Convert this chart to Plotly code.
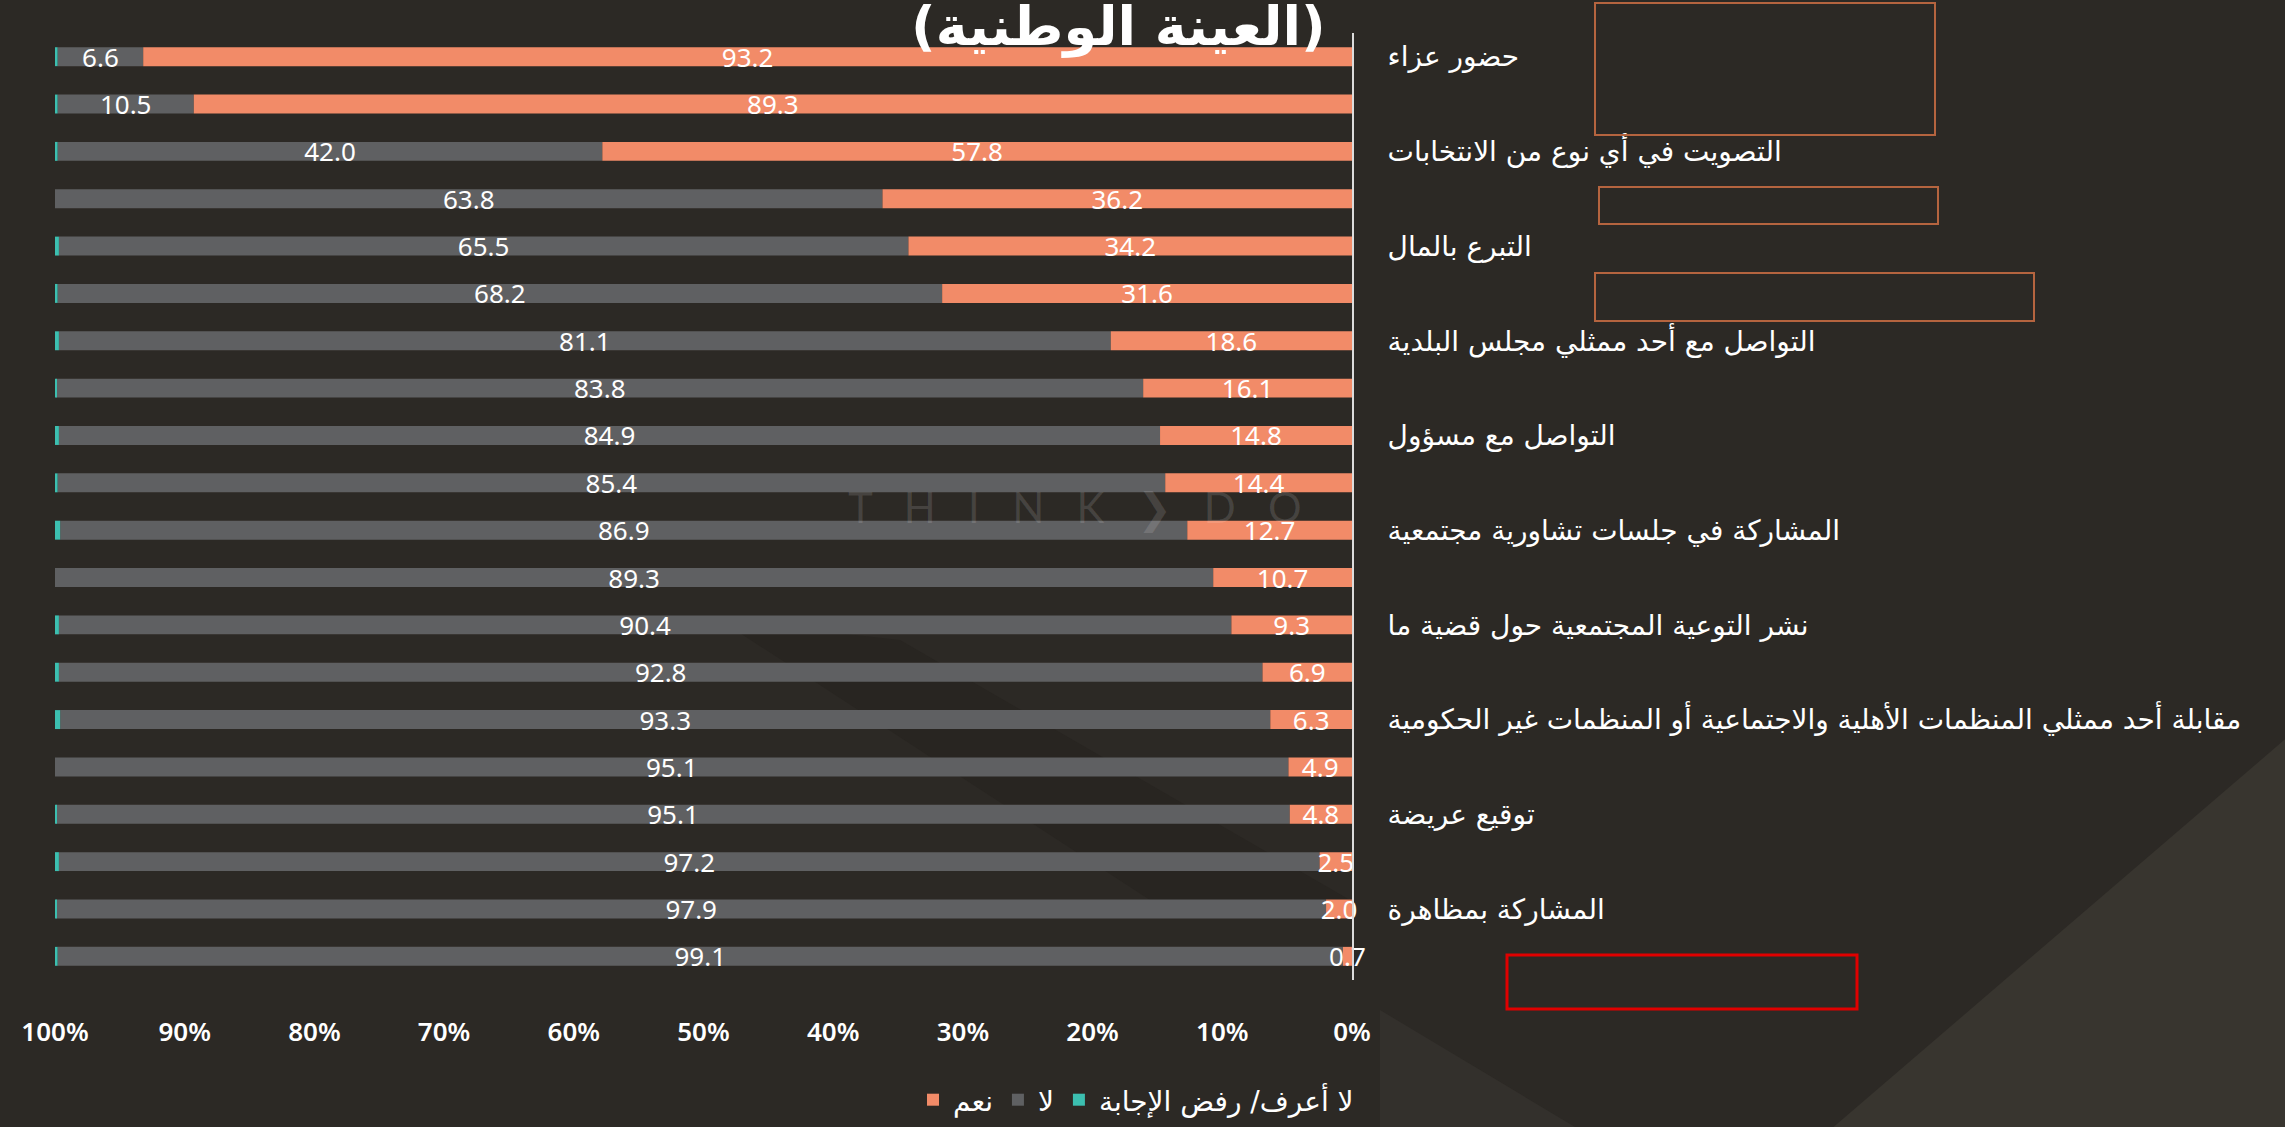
import plotly.graph_objects as go

# ---- data ----
row_labels = [
    "حضور عزاء", "",
    "التصويت في أي نوع من الانتخابات", "",
    "التبرع بالمال", "",
    "التواصل مع أحد ممثلي مجلس البلدية", "",
    "التواصل مع مسؤول ", "",
    "المشاركة في جلسات تشاورية مجتمعية", "",
    "نشر التوعية المجتمعية حول قضية ما ", "",
    "مقابلة أحد ممثلي المنظمات الأهلية والاجتماعية أو المنظمات غير الحكومية", "",
    "توقيع عريضة", "",
    "المشاركة بمظاهرة", "",
]
yes_vals = [93.2, 89.3, 57.8, 36.2, 34.2, 31.6, 18.6, 16.1, 14.8, 14.4,
            12.7, 10.7, 9.3, 6.9, 6.3, 4.9, 4.8, 2.5, 2.0, 0.7]
no_vals = [6.6, 10.5, 42.0, 63.8, 65.5, 68.2, 81.1, 83.8, 84.9, 85.4,
           86.9, 89.3, 90.4, 92.8, 93.3, 95.1, 95.1, 97.2, 97.9, 99.1]
dk_vals = [0.2, 0.2, 0.2, 0.0, 0.3, 0.2, 0.3, 0.1, 0.3, 0.2,
           0.4, 0.1, 0.3, 0.3, 0.4, 0.0, 0.1, 0.3, 0.1, 0.2]
series_names = ["نعم", "لا", "لا أعرف/ رفض الإجابة"]
x_ticks = [100, 90, 80, 70, 60, 50, 40, 30, 20, 10, 0]
x_tick_text = ["100%", "90%", "80%", "70%", "60%", "50%", "40%", "30%", "20%", "10%", "0%"]
title_text = "(العينة الوطنية)"

rows = list(range(len(yes_vals)))
tick_rows = [r for r in rows if row_labels[r]]
tick_text = [row_labels[r] for r in tick_rows]

# stacked bases (yes from 0, then no, then don't know)
no_base = list(yes_vals)
dk_base = [a + b for a, b in zip(yes_vals, no_vals)]

W, H = 2285, 1127
L, R, T, B = 55, 1352, 33, 980  # plot area pixels


def px(x):
    return (x - L) / (R - L)


def py(y):
    return (B - y) / (B - T)


C_YES = "#f28b68"
C_NO = "#5f6062"
C_DK = "#3cbfb0"
num_font = dict(family="Noto Sans", size=26, color="white")

fig = go.Figure()
# draw order: no, dk, then yes last so its labels sit on top
fig.add_trace(go.Bar(
    y=rows, x=no_vals, base=no_base, orientation="h", name=series_names[1],
    legendrank=2,
    marker=dict(color=C_NO, line=dict(width=0)),
    text=no_vals, texttemplate="%{x:.1f}", textposition="inside", textangle=0,
    insidetextanchor="middle", textfont=num_font, cliponaxis=False,
))
fig.add_trace(go.Bar(
    y=rows, x=dk_vals, base=dk_base, orientation="h", name=series_names[2],
    legendrank=3,
    marker=dict(color=C_DK, line=dict(width=0)),
    textposition="none",
))
fig.add_trace(go.Bar(
    y=rows, x=yes_vals, base=0, orientation="h", name=series_names[0],
    legendrank=1,
    marker=dict(color=C_YES, line=dict(width=0)),
    text=yes_vals, texttemplate="%{x:.1f}", textposition="inside", textangle=0,
    insidetextanchor="middle", textfont=num_font, cliponaxis=False,
))

shapes = [
    # background light wedge bottom right
    dict(type="path", xref="paper", yref="paper", layer="below",
         path=f"M {px(2290)} {py(735)} L {px(2290)} {py(1130)} L {px(1830)} {py(1130)} Z",
         fillcolor="#38352f", line=dict(width=0)),
    dict(type="path", xref="paper", yref="paper", layer="below",
         path=f"M {px(1380)} {py(1010)} L {px(1580)} {py(1130)} L {px(1380)} {py(1130)} Z",
         fillcolor="#33302c", line=dict(width=0)),
    dict(type="path", xref="paper", yref="paper", layer="below",
         path=f"M {px(720)} {py(620)} L {px(900)} {py(640)} L {px(1350)} {py(900)} L {px(1150)} {py(900)} Z",
         fillcolor="#282521", line=dict(width=0)),
    # empty outlined boxes
    dict(type="rect", xref="paper", yref="paper", layer="above",
         x0=px(1595), x1=px(1935), y0=py(3), y1=py(135),
         line=dict(color="#b5643f", width=2)),
    dict(type="rect", xref="paper", yref="paper", layer="above",
         x0=px(1599), x1=px(1938), y0=py(187), y1=py(224),
         line=dict(color="#b5643f", width=2)),
    dict(type="rect", xref="paper", yref="paper", layer="above",
         x0=px(1595), x1=px(2034), y0=py(273), y1=py(321),
         line=dict(color="#b5643f", width=2)),
    dict(type="rect", xref="paper", yref="paper", layer="above",
         x0=px(1507), x1=px(1857), y0=py(955), y1=py(1009),
         line=dict(color="#e00000", width=3)),
]

annotations = [
    dict(text=title_text, xref="paper", yref="paper", x=px(1118), y=py(60),
         xanchor="center", yanchor="bottom", showarrow=False,
         font=dict(family="DejaVu Sans", size=54, color="white", weight="bold")),
    dict(text="T   H   I   N   K   ❯   D   O", xref="paper", yref="paper",
         x=px(1075), y=py(508), xanchor="center", yanchor="middle", showarrow=False,
         font=dict(family="Lato", size=42, color="rgba(255,255,255,0.13)")),
]

fig.update_layout(
    width=W, height=H,
    margin=dict(l=L, r=W - R, t=T, b=H - B, autoexpand=False),
    paper_bgcolor="#2c2925", plot_bgcolor="rgba(0,0,0,0)",
    barmode="overlay", bargap=0.6,
    showlegend=True,
    legend=dict(orientation="h", x=px(1136), y=py(1100), xanchor="center", yanchor="middle",
                font=dict(family="DejaVu Sans", size=28, color="white"),
                bgcolor="rgba(0,0,0,0)", itemsizing="constant", traceorder="normal",
                itemwidth=30),
    uniformtext=dict(minsize=26, mode="show"),
    shapes=shapes, annotations=annotations,
    xaxis=dict(range=[100, 0], tickvals=x_ticks, ticktext=x_tick_text,
               showgrid=False, zeroline=False, showline=False,
               ticks="", ticklabelstandoff=34,
               tickfont=dict(family="Noto Sans", size=26, color="white", weight=600),
               fixedrange=True),
    yaxis=dict(range=[len(rows) - 0.5, -0.5], side="right",
               tickvals=tick_rows, ticktext=tick_text,
               showgrid=False, zeroline=False, showline=True,
               linecolor="#dcdcdc", linewidth=2, ticks="",
               ticklabelstandoff=28,
               tickfont=dict(family="DejaVu Sans", size=28, color="white")),
)

fig.write_html("out.html", config={"displayModeBar": False},
               post_script="document.body.style.margin='0px';document.body.style.overflow='hidden';")
